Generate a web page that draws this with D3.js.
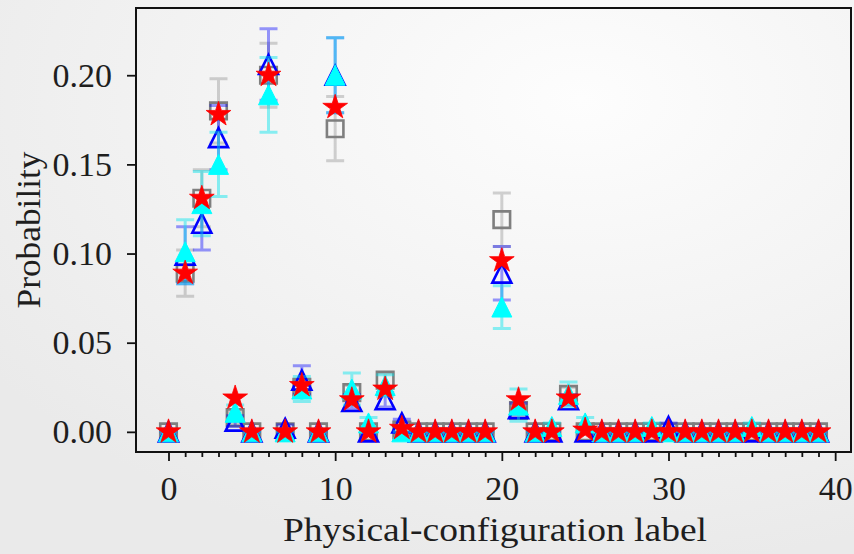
<!DOCTYPE html>
<html>
<head>
<meta charset="utf-8">
<script src="https://cdn.jsdelivr.net/npm/d3@7"></script>
<style>
  html, body { margin: 0; padding: 0; background: #f3f3f3; }
  svg { display: block; }
  text { font-family: "Liberation Serif", "DejaVu Serif", serif; fill: #1e1e1e; }
</style>
</head>
<body>
<svg id="chart" width="854" height="554"></svg>
<script>
// Physical-configuration labels (x categories)
const configLabels = [0,1,2,3,4,5,6,7,8,9,10,11,12,13,14,15,16,17,18,19,
                      20,21,22,23,24,25,26,27,28,29,30,31,32,33,34,35,36,37,38,39];

// Gray open squares with error bars
const squareProb = [0, 0.089, 0.131, 0.180, 0.008, 0, 0.200, 0, 0.025, 0,
                    0.170, 0.022, 0, 0.029, 0.001, 0, 0, 0, 0, 0,
                    0.119, 0.012, 0, 0, 0.021, 0, 0, 0, 0, 0,
                    0, 0, 0, 0, 0, 0, 0, 0, 0, 0];
const squareErr  = [0, 0.013, 0.016, 0.018, 0.003, 0, 0.018, 0, 0.004, 0,
                    0.018, 0.004, 0, 0.004, 0.001, 0, 0, 0, 0, 0,
                    0.015, 0.003, 0, 0, 0.004, 0, 0, 0, 0, 0,
                    0, 0, 0, 0, 0, 0, 0, 0, 0, 0];

// Blue open triangles with error bars
const blueProb = [0, 0.099, 0.117, 0.165, 0.006, 0, 0.206, 0.002, 0.029, 0,
                  0.200, 0.017, 0, 0.018, 0.005, 0, 0, 0, 0, 0,
                  0.089, 0.013, 0, 0, 0.018, 0, 0, 0, 0, 0,
                  0.003, 0, 0, 0, 0, 0, 0, 0, 0, 0];
const blueErr  = [0, 0.016, 0.015, 0.018, 0.003, 0, 0.020, 0.002, 0.008, 0,
                  0.021, 0.004, 0, 0.004, 0.002, 0, 0, 0, 0, 0,
                  0.015, 0.003, 0, 0, 0.003, 0, 0, 0, 0, 0,
                  0.002, 0, 0, 0, 0, 0, 0, 0, 0, 0];

// Cyan filled triangles with error bars
const cyanProb = [0, 0.101, 0.128, 0.150, 0.011, 0, 0.189, 0, 0.024, 0,
                  0.200, 0.024, 0.005, 0.026, 0, 0, 0, 0, 0, 0,
                  0.070, 0.015, 0, 0.003, 0.021, 0.005, 0, 0, 0, 0.003,
                  0, 0, 0, 0, 0, 0.003, 0, 0, 0, 0];
const cyanErr  = [0, 0.018, 0.018, 0.018, 0.004, 0, 0.021, 0, 0.007, 0,
                  0.021, 0.009, 0.003, 0.006, 0, 0, 0, 0, 0, 0,
                  0.012, 0.009, 0, 0.002, 0.007, 0.003, 0, 0, 0, 0.002,
                  0, 0, 0, 0, 0, 0.002, 0, 0, 0, 0];

// Red stars (no error bars)
const starProb = [0, 0.089, 0.131, 0.178, 0.019, 0, 0.200, 0, 0.026, 0,
                  0.182, 0.018, 0, 0.024, 0.002, 0, 0, 0, 0, 0,
                  0.096, 0.018, 0, 0, 0.019, 0.001, 0, 0, 0, 0,
                  0, 0, 0, 0, 0, 0, 0, 0, 0, 0];

// Axis ticks
const xMajorTicks = [0, 10, 20, 30, 40];
const xMinorTicks = d3.range(0, 41).filter(v => v % 10 !== 0);
const yTicks = [0.00, 0.05, 0.10, 0.15, 0.20];

const W = 854, H = 554;
const plot = { left: 136, right: 851, top: 8, bottom: 452 };

const svg = d3.select("#chart");

// soft figure background
const defs = svg.append("defs");
const bg = defs.append("radialGradient").attr("id", "bg")
  .attr("cx", "68%").attr("cy", "18%").attr("r", "85%");
bg.append("stop").attr("offset", "0%").attr("stop-color", "#fdfdfd");
bg.append("stop").attr("offset", "100%").attr("stop-color", "#eaeaea");
svg.append("rect").attr("width", W).attr("height", H).attr("fill", "url(#bg)");

const x = d3.scaleLinear().domain([-1.95, 40.95]).range([plot.left, plot.right]);
const y = d3.scaleLinear().domain([-0.0113, 0.2377]).range([plot.bottom, plot.top]);

// marker shapes
function squarePath(s) {
  const h = s / 2;
  return `M${-h},${-h}H${h}V${h}H${-h}Z`;
}
function trianglePath(s) {
  const h = s / 2;
  return `M0,${-h}L${h},${h}L${-h},${h}Z`;
}
function starPath(r) {
  const inner = r * 0.381966;
  let p = "";
  for (let k = 0; k < 10; k++) {
    const rad = k % 2 === 0 ? r : inner;
    const a = -Math.PI / 2 + k * Math.PI / 5;
    p += (k === 0 ? "M" : "L") + (rad * Math.cos(a)).toFixed(3) + "," + (rad * Math.sin(a)).toFixed(3);
  }
  return p + "Z";
}

const series = [
  { name: "square", values: squareProb, errors: squareErr, errColor: "#808080", errOpacity: 0.35,
    path: squarePath(16.5), fill: "none", stroke: "#7f7f7f", strokeWidth: 2.6 },
  { name: "blue", values: blueProb, errors: blueErr, errColor: "#0000ff", errOpacity: 0.4,
    path: trianglePath(19), fill: "none", stroke: "#0000ff", strokeWidth: 2.6 },
  { name: "cyan", values: cyanProb, errors: cyanErr, errColor: "#00e5ee", errOpacity: 0.45,
    path: trianglePath(20), fill: "#00ffff", stroke: "#00ffff", strokeWidth: 1 },
  { name: "star", values: starProb, errors: null,
    path: starPath(13), fill: "#ff0000", stroke: "#ff0000", strokeWidth: 0.8 }
];

const capHalf = 9;
const dataLayer = svg.append("g");

series.forEach(s => {
  const pts = configLabels.map((c, i) => ({ c, v: s.values[i], e: s.errors ? s.errors[i] : 0 }));
  if (s.errors) {
    const eg = dataLayer.append("g").attr("class", "err-" + s.name)
      .attr("stroke", s.errColor).attr("stroke-opacity", s.errOpacity).attr("stroke-width", 3).attr("fill", "none");
    pts.forEach(d => {
      const cx = x(d.c), y0 = y(d.v - d.e), y1 = y(d.v + d.e);
      eg.append("path").attr("d", `M${cx},${y0}V${y1}M${cx - capHalf},${y0}H${cx + capHalf}M${cx - capHalf},${y1}H${cx + capHalf}`);
    });
  }
  dataLayer.append("g").attr("class", "mk-" + s.name)
    .selectAll("path").data(pts).join("path")
    .attr("d", s.path)
    .attr("transform", d => `translate(${x(d.c)},${y(d.v)})`)
    .attr("fill", s.fill)
    .attr("stroke", s.stroke)
    .attr("stroke-width", s.strokeWidth)
    .attr("stroke-linejoin", "miter");
});

// axes
const fontSize = 34;
const xAxisMajor = d3.axisBottom(x).tickValues(xMajorTicks).tickSize(9).tickPadding(15).tickFormat(d3.format("d"));
const xAxisMinor = d3.axisBottom(x).tickValues(xMinorTicks).tickSize(5).tickFormat("");
const yAxis = d3.axisLeft(y).tickValues(yTicks).tickSize(9).tickPadding(15).tickFormat(d3.format(".2f"));

function styleAxis(g) {
  g.select(".domain").remove();
  g.selectAll(".tick line").attr("stroke", "#111").attr("stroke-width", 1.8);
  g.selectAll(".tick text").attr("font-size", fontSize).attr("fill", "#1e1e1e");
}

svg.append("g").attr("transform", `translate(0,${plot.bottom})`).call(xAxisMinor).call(styleAxis);
svg.append("g").attr("transform", `translate(0,${plot.bottom})`).call(xAxisMajor).call(styleAxis);
svg.append("g").attr("transform", `translate(${plot.left},0)`).call(yAxis).call(styleAxis);

// frame
svg.append("rect")
  .attr("x", plot.left).attr("y", plot.top)
  .attr("width", plot.right - plot.left).attr("height", plot.bottom - plot.top)
  .attr("fill", "none").attr("stroke", "#111").attr("stroke-width", 2);

// axis titles
svg.append("text")
  .attr("x", 495).attr("y", 541)
  .attr("text-anchor", "middle").attr("font-size", fontSize)
  .attr("textLength", 424).attr("lengthAdjust", "spacingAndGlyphs")
  .text("Physical-configuration label");

svg.append("text")
  .attr("transform", `translate(40,${(plot.top + plot.bottom) / 2}) rotate(-90)`)
  .attr("text-anchor", "middle").attr("font-size", fontSize)
  .attr("textLength", 157).attr("lengthAdjust", "spacingAndGlyphs")
  .text("Probability");
</script>
</body>
</html>
